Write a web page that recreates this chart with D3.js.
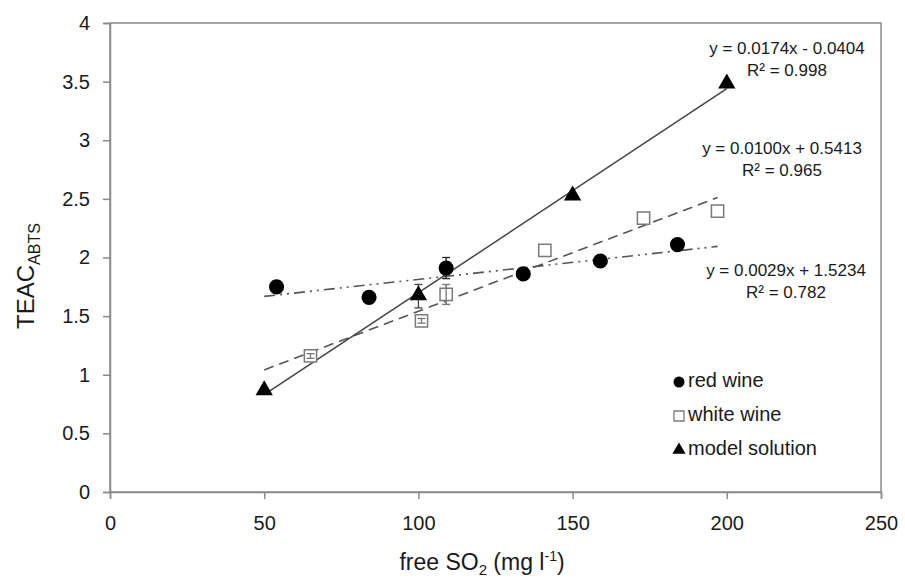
<!DOCTYPE html>
<html><head><meta charset="utf-8">
<script src="https://cdn.jsdelivr.net/npm/d3@7"></script>
<style>body{margin:0;background:#fff}svg{display:block}</style>
</head><body>
<svg id="c" width="905" height="579"></svg>
<script>
// ---- data ----
const redX = [54, 84, 109, 134, 159, 184];
const redY = [1.75, 1.66, 1.91, 1.86, 1.97, 2.11];
const redErr = [0.05, 0, 0.09, 0, 0, 0];
const whiteX = [65, 101, 109, 141, 173, 197];
const whiteY = [1.16, 1.46, 1.685, 2.06, 2.335, 2.395];
const whiteErr = [0.02, 0.02, 0.085, 0, 0, 0];
const modelX = [50, 100, 150, 200];
const modelY = [0.86, 1.67, 2.52, 3.475];
const modelErr = [0, 0.1, 0, 0];
const fitModel = {slope: 0.0174, intercept: -0.0404, from: 50, to: 200};
const fitWhite = {slope: 0.0100, intercept: 0.5413, from: 50, to: 197};
const fitRed = {slope: 0.0029, intercept: 1.5234, from: 50, to: 197};
const eqModel = ["y = 0.0174x - 0.0404", "R² = 0.998"];
const eqWhite = ["y = 0.0100x + 0.5413", "R² = 0.965"];
const eqRed = ["y = 0.0029x + 1.5234", "R² = 0.782"];
const xTicks = [0, 50, 100, 150, 200, 250];
const yTicks = [0, 0.5, 1, 1.5, 2, 2.5, 3, 3.5, 4];
const legendLabels = ["red wine", "white wine", "model solution"];

// ---- layout ----
const svg = d3.select("#c");
const L = 110, R = 881, T = 23, B = 492;
const x = d3.scaleLinear().domain([0, 250]).range([L, R]);
const y = d3.scaleLinear().domain([0, 4]).range([B, T]);
const axisCol = "#8a8a8a", textCol = "#1a1a1a", font = "Liberation Sans, Arial, sans-serif";

// frame
svg.append("rect").attr("x", L).attr("y", T).attr("width", R - L).attr("height", B - T)
  .attr("fill", "none").attr("stroke", axisCol).attr("stroke-width", 1.5);

// axes
const xa = svg.append("g").attr("transform", `translate(0,${B})`)
  .call(d3.axisBottom(x).tickValues(xTicks).tickSize(7).tickPadding(17).tickFormat(d3.format("d")));
const ya = svg.append("g").attr("transform", `translate(${L},0)`)
  .call(d3.axisLeft(y).tickValues(yTicks).tickSize(7).tickPadding(13).tickFormat(d => String(d)));
[xa, ya].forEach(g => {
  g.select(".domain").attr("stroke", axisCol).attr("stroke-width", 1.5);
  g.selectAll(".tick line").attr("stroke", axisCol).attr("stroke-width", 1.5);
  g.selectAll(".tick text").attr("fill", textCol).attr("font-family", font).attr("font-size", 20);
});

// axis titles
const yt = svg.append("text").attr("transform", "translate(34,276) rotate(-90)")
  .attr("text-anchor", "middle").attr("font-family", font).attr("font-size", 24).attr("fill", textCol);
yt.append("tspan").text("TEAC");
yt.append("tspan").attr("font-size", 16).attr("dy", 6).text("ABTS");

const xt = svg.append("text").attr("x", 482).attr("y", 570)
  .attr("text-anchor", "middle").attr("font-family", font).attr("font-size", 23).attr("fill", textCol);
xt.append("tspan").text("free SO");
xt.append("tspan").attr("font-size", 15).attr("dy", 5).text("2");
xt.append("tspan").attr("dy", -5).text(" (mg l");
xt.append("tspan").attr("font-size", 14).attr("dy", -9).text("-1");
xt.append("tspan").attr("dy", 9).text(")");

// trendlines
function fitLine(f, dash, col, w) {
  svg.append("line")
    .attr("x1", x(f.from)).attr("y1", y(f.slope * f.from + f.intercept))
    .attr("x2", x(f.to)).attr("y2", y(f.slope * f.to + f.intercept))
    .attr("stroke", col).attr("stroke-width", w).attr("stroke-dasharray", dash);
}
fitLine(fitRed, "11,5,2,5,2,5", "#555", 1.6);
fitLine(fitWhite, "10,6", "#555", 1.6);
fitLine(fitModel, null, "#444", 1.5);

// error bars
function errBars(xs, ys, es, col) {
  xs.forEach((xv, i) => {
    const e = es[i]; if (!e) return;
    const g = svg.append("g").attr("stroke", col).attr("stroke-width", 1.3);
    g.append("line").attr("x1", x(xv)).attr("x2", x(xv)).attr("y1", y(ys[i] - e)).attr("y2", y(ys[i] + e));
    [ys[i] - e, ys[i] + e].forEach(v => g.append("line").attr("x1", x(xv) - 4).attr("x2", x(xv) + 4).attr("y1", y(v)).attr("y2", y(v)));
  });
}

// points
const circ = d3.symbol().type(d3.symbolCircle).size(180);
const sq = d3.symbol().type(d3.symbolSquare).size(150);
const tri = d3.symbol().type(d3.symbolTriangle).size(130);

errBars(whiteX, whiteY, whiteErr, "#777");
svg.append("g").selectAll("path").data(whiteX).join("path")
  .attr("transform", (d, i) => `translate(${x(d)},${y(whiteY[i])})`).attr("d", sq)
  .attr("fill", "#fff").attr("stroke", "#7a7a7a").attr("stroke-width", 1.5);
errBars(whiteX, whiteY, whiteErr.map(e => e < 0.05 ? e : 0), "#777");
whiteX.forEach((xv, i) => { if (whiteErr[i] >= 0.05) {
  svg.append("line").attr("x1", x(xv)).attr("x2", x(xv)).attr("y1", y(whiteY[i] - whiteErr[i])).attr("y2", y(whiteY[i] + whiteErr[i])).attr("stroke", "#777").attr("stroke-width", 1.3);
}});

errBars(redX, redY, redErr, "#222");
svg.append("g").selectAll("path").data(redX).join("path")
  .attr("transform", (d, i) => `translate(${x(d)},${y(redY[i])})`).attr("d", circ).attr("fill", "#000");

errBars(modelX, modelY, modelErr, "#444");
svg.append("g").selectAll("path").data(modelX).join("path")
  .attr("transform", (d, i) => `translate(${x(d)},${y(modelY[i]) - 1})`).attr("d", tri).attr("fill", "#000");

// equations
function eq(lines, cx, cy) {
  lines.forEach((t, i) => svg.append("text").attr("x", cx).attr("y", cy + i * 22)
    .attr("text-anchor", "middle").attr("dominant-baseline", "middle")
    .attr("font-family", font).attr("font-size", 17).attr("fill", textCol).text(t));
}
eq(eqModel, 787, 50);
eq(eqWhite, 782, 150);
eq(eqRed, 786, 272);

// legend
const legY = [382, 416, 450];
legendLabels.forEach((lab, i) => {
  const s = i === 0 ? d3.symbol().type(d3.symbolCircle).size(95)
    : i === 1 ? d3.symbol().type(d3.symbolSquare).size(100)
    : d3.symbol().type(d3.symbolTriangle).size(75);
  svg.append("path").attr("transform", `translate(679,${legY[i]})`).attr("d", s)
    .attr("fill", i === 1 ? "#fff" : "#000").attr("stroke", i === 1 ? "#7a7a7a" : "none").attr("stroke-width", 1.3);
  svg.append("text").attr("x", 688).attr("y", legY[i]).attr("dominant-baseline", "middle")
    .attr("font-family", font).attr("font-size", 20).attr("fill", textCol).text(lab);
});
</script>
</body></html>
